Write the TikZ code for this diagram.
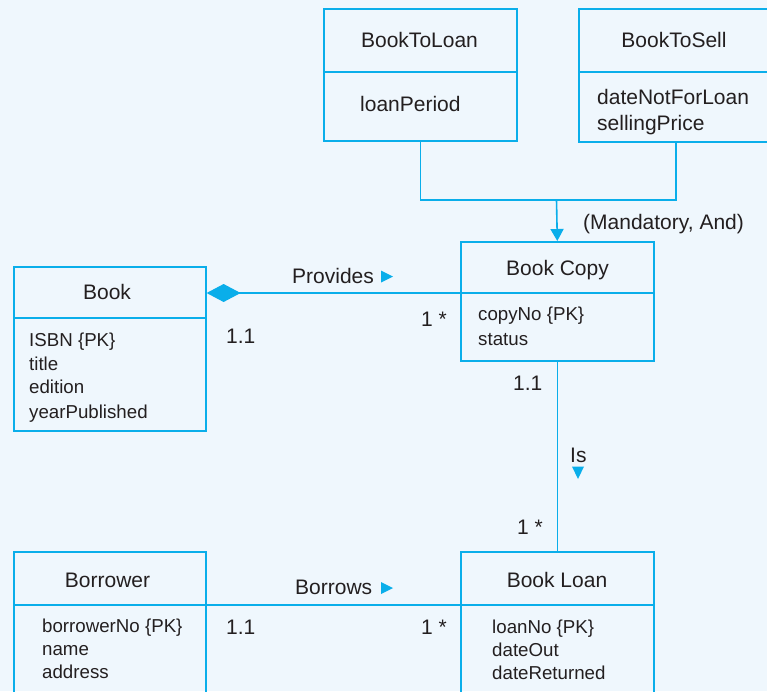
\documentclass[tikz,border=0pt]{standalone}
\usepackage{fontspec}
\setmainfont{Liberation Sans}
\usetikzlibrary{arrows.meta}
\definecolor{bg}{HTML}{EFF7FD}
\definecolor{ln}{HTML}{0AAEEA}
\definecolor{tx}{HTML}{231F20}
\begin{document}
\begin{tikzpicture}[x=1pt,y=-1pt,
  cls/.style={draw=ln, line width=1.6pt, rectangle, inner sep=0pt, anchor=north west},
  lnst/.style={draw=ln, line width=1.6pt},
  big/.style={font=\fontsize{21}{25}\selectfont, text=tx, inner sep=0pt},
  sm/.style={font=\fontsize{18.7}{22}\selectfont, text=tx, inner sep=0pt},
  tri/.style={fill=ln}]
\fill[bg] (0,0) rectangle (767,691);
\useasboundingbox (0,0) rectangle (767,691);
% classes
\node[cls, minimum width=193pt, minimum height=132pt] (btl) at (323,8) {};
\node[cls, minimum width=194pt, minimum height=133pt] (bts) at (578,8) {};
\node[cls, minimum width=192pt, minimum height=164pt] (book) at (13,266) {};
\node[cls, minimum width=193pt, minimum height=119pt] (bc) at (460,241) {};
\node[cls, minimum width=192pt, minimum height=160pt] (bor) at (13,551) {};
\node[cls, minimum width=193pt, minimum height=160pt] (bl) at (460,551) {};
% dividers
\draw[lnst] (btl.west |- 0,72) -- (btl.east |- 0,72);
\draw[lnst] (bts.west |- 0,72) -- (bts.east |- 0,72);
\draw[lnst] (book.west |- 0,318) -- (book.east |- 0,318);
\draw[lnst] (bc.west |- 0,293) -- (bc.east |- 0,293);
\draw[lnst] (bor.west |- 0,605) -- (bor.east |- 0,605);
\draw[lnst] (bl.west |- 0,605) -- (bl.east |- 0,605);
% texts
\node[big, anchor=base] (t1) at (419.5,47.5) {BookToLoan};
\node[big, anchor=base west] (a1) at (360,111.5) {loanPeriod};
\node[big, anchor=base] (t2) at (674,47.5) {BookToSell};
\node[big, anchor=base west, align=left] (a2) at (597,104.5) {dateNotForLoan};
\node[big, anchor=base west] (a3) at (597,130.5) {sellingPrice};
\node[big, anchor=base west] (mand) at (583,229) {(Mandatory, And)};
\node[big, anchor=base] (t3) at (557.5,275.5) {Book Copy};
\node[sm, anchor=base west] (a4) at (478,320.7) {copyNo \{PK\}};
\node[sm, anchor=base west] (a5) at (478,345.7) {status};
\node[big, anchor=base] (t4) at (107,299.5) {Book};
\node[sm, anchor=base west] (a6) at (29,346.7) {ISBN \{PK\}};
\node[sm, anchor=base west] (a7) at (29,370) {title};
\node[sm, anchor=base west] (a8) at (29,393) {edition};
\node[sm, anchor=base west] (a9) at (29,418) {yearPublished};
\node[big, anchor=base] (t5) at (107.5,587.5) {Borrower};
\node[sm, anchor=base west] (a10) at (42,632.7) {borrowerNo \{PK\}};
\node[sm, anchor=base west] (a11) at (42,655.7) {name};
\node[sm, anchor=base west] (a12) at (42,678.7) {address};
\node[big, anchor=base] (t6) at (557,587.5) {Book Loan};
\node[sm, anchor=base west] (a13) at (492,633.7) {loanNo \{PK\}};
\node[sm, anchor=base west] (a14) at (492,656.7) {dateOut};
\node[sm, anchor=base west] (a15) at (492,679.7) {dateReturned};
% connectors
\coordinate (j) at (556.5,200);
\draw[lnst] (btl.south) -- (btl.south |- j) -- (bts.south |- j) -- (bts.south);
\draw[lnst, -{Triangle[length=12pt,width=13pt]}] (j) -- (bc.north);
\coordinate (pv) at (0,293);
\draw[lnst, {Diamond[length=34pt,width=18pt,fill=ln]}-] (book.east |- pv) -- (bc.west |- pv);
\draw[lnst] (bc.south) -- (bl.north);
\coordinate (bw) at (0,605);
\draw[lnst] (bor.east |- bw) -- (bl.west |- bw);
% labels
\node[big, anchor=base west] (l1) at (292,283.5) {Provides};
\fill[tri] (381,270.5) -- (393,276.5) -- (381,282.5) -- cycle;
\node[big, anchor=base west] (l2) at (226,343.5) {1.1};
\node[big, anchor=base west] (l3) at (421,326.5) {1 *};
\node[big, anchor=base west] (l4) at (513,390.5) {1.1};
\node[big, anchor=base west] (l5) at (570,462.5) {Is};
\fill[tri] (572,466.5) -- (584,466.5) -- (578,479) -- cycle;
\node[big, anchor=base west] (l6) at (517,534.5) {1 *};
\node[big, anchor=base west] (l7) at (295,594.5) {Borrows};
\fill[tri] (381,582) -- (393,588) -- (381,594) -- cycle;
\node[big, anchor=base west] (l8) at (226,634.5) {1.1};
\node[big, anchor=base west] (l9) at (421,634.5) {1 *};
\end{tikzpicture}
\end{document}
